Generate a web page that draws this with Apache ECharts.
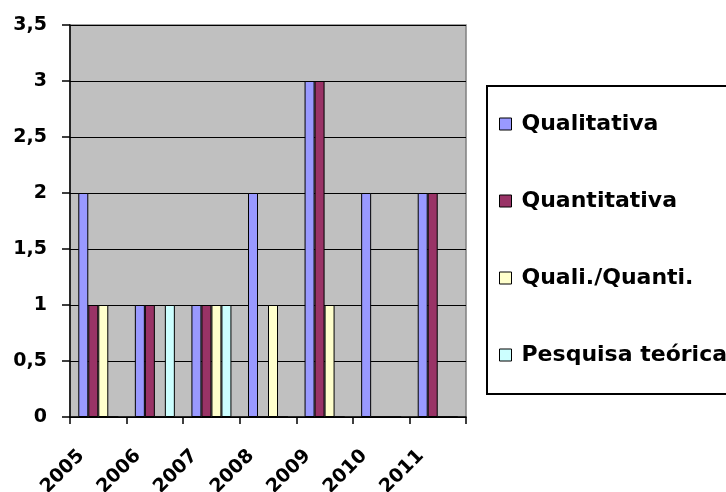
<!DOCTYPE html>
<html>
<head>
<meta charset="utf-8">
<style>
  html, body { margin: 0; padding: 0; background: #ffffff; }
  #chart { width: 726px; height: 492px; }
</style>
<script src="https://cdn.jsdelivr.net/npm/echarts@6/dist/echarts.min.js"></script>
</head>
<body>
<div id="chart"></div>
<script>
// Publications per year, by research approach
const years = ['2005', '2006', '2007', '2008', '2009', '2010', '2011'];
const qualitativa = [2, 1, 1, 2, 3, 2, 2];
const quantitativa = [1, 1, 1, 0, 3, 0, 2];
const qualiQuanti = [1, 0, 1, 1, 1, 0, 0];
const pesquisaTeorica = [0, 1, 1, 0, 0, 0, 0];
const yTicks = [0, 0.5, 1, 1.5, 2, 2.5, 3, 3.5];

const seriesDefs = [
  { name: 'Qualitativa', data: qualitativa, color: '#9999FF' },
  { name: 'Quantitativa', data: quantitativa, color: '#993366' },
  { name: 'Quali./Quanti.', data: qualiQuanti, color: '#FFFFCC' },
  { name: 'Pesquisa teórica', data: pesquisaTeorica, color: '#CCFFFF' }
];

const FONT = 'DejaVu Sans';
const chart = echarts.init(document.getElementById('chart'), null, { renderer: 'canvas' });

chart.setOption({
  animation: false,
  backgroundColor: '#ffffff',
  grid: {
    left: 70, right: 260, top: 25, bottom: 75,
    containLabel: false,
    outerBoundsMode: 'none',
    show: true,
    backgroundColor: '#C0C0C0',
    borderColor: '#808080',
    borderWidth: 1.5
  },
  graphic: [{
    type: 'rect',
    shape: { x: 487, y: 86, width: 260, height: 308 },
    style: { fill: '#ffffff', stroke: '#000000', lineWidth: 2 },
    z: 0
  }],
  legend: {
    orient: 'vertical',
    left: 494,
    top: 107,
    itemWidth: 12,
    itemHeight: 12,
    itemGap: 53,
    icon: 'rect',
    textStyle: {
      fontFamily: FONT, fontWeight: 'bold', fontSize: 22,
      color: '#000000', lineHeight: 24, padding: [0, 0, 0, 5]
    },
    itemStyle: { borderColor: '#000000', borderWidth: 1 },
    z: 5
  },
  xAxis: {
    type: 'category',
    data: years,
    boundaryGap: true,
    axisLine: { lineStyle: { color: '#000000', width: 1.5 } },
    axisTick: { show: true, length: 7, interval: 0, lineStyle: { color: '#000000', width: 1.5 } },
    axisLabel: {
      interval: 0, rotate: 45, margin: 19, padding: [0, 24, 0, 0],
      fontFamily: FONT, fontWeight: 'bold', fontSize: 19, color: '#000000'
    },
    splitLine: { show: false }
  },
  yAxis: {
    type: 'value',
    min: yTicks[0],
    max: yTicks[yTicks.length - 1],
    interval: 0.5,
    axisLine: { show: true, lineStyle: { color: '#000000', width: 1.5 } },
    axisTick: { show: true, length: 8, lineStyle: { color: '#000000', width: 1.5 } },
    axisLabel: {
      margin: 23,
      fontFamily: FONT, fontWeight: 'bold', fontSize: 19, color: '#000000',
      formatter: v => String(v).replace('.', ',')
    },
    splitLine: { show: true, lineStyle: { color: '#000000', width: 1 } }
  },
  series: seriesDefs.map(s => ({
    type: 'bar',
    name: s.name,
    data: s.data,
    barWidth: 10,
    barGap: '0%',
    itemStyle: { color: s.color, borderColor: '#000000', borderWidth: 1 },
    emphasis: { disabled: true }
  }))
});
</script>
</body>
</html>
